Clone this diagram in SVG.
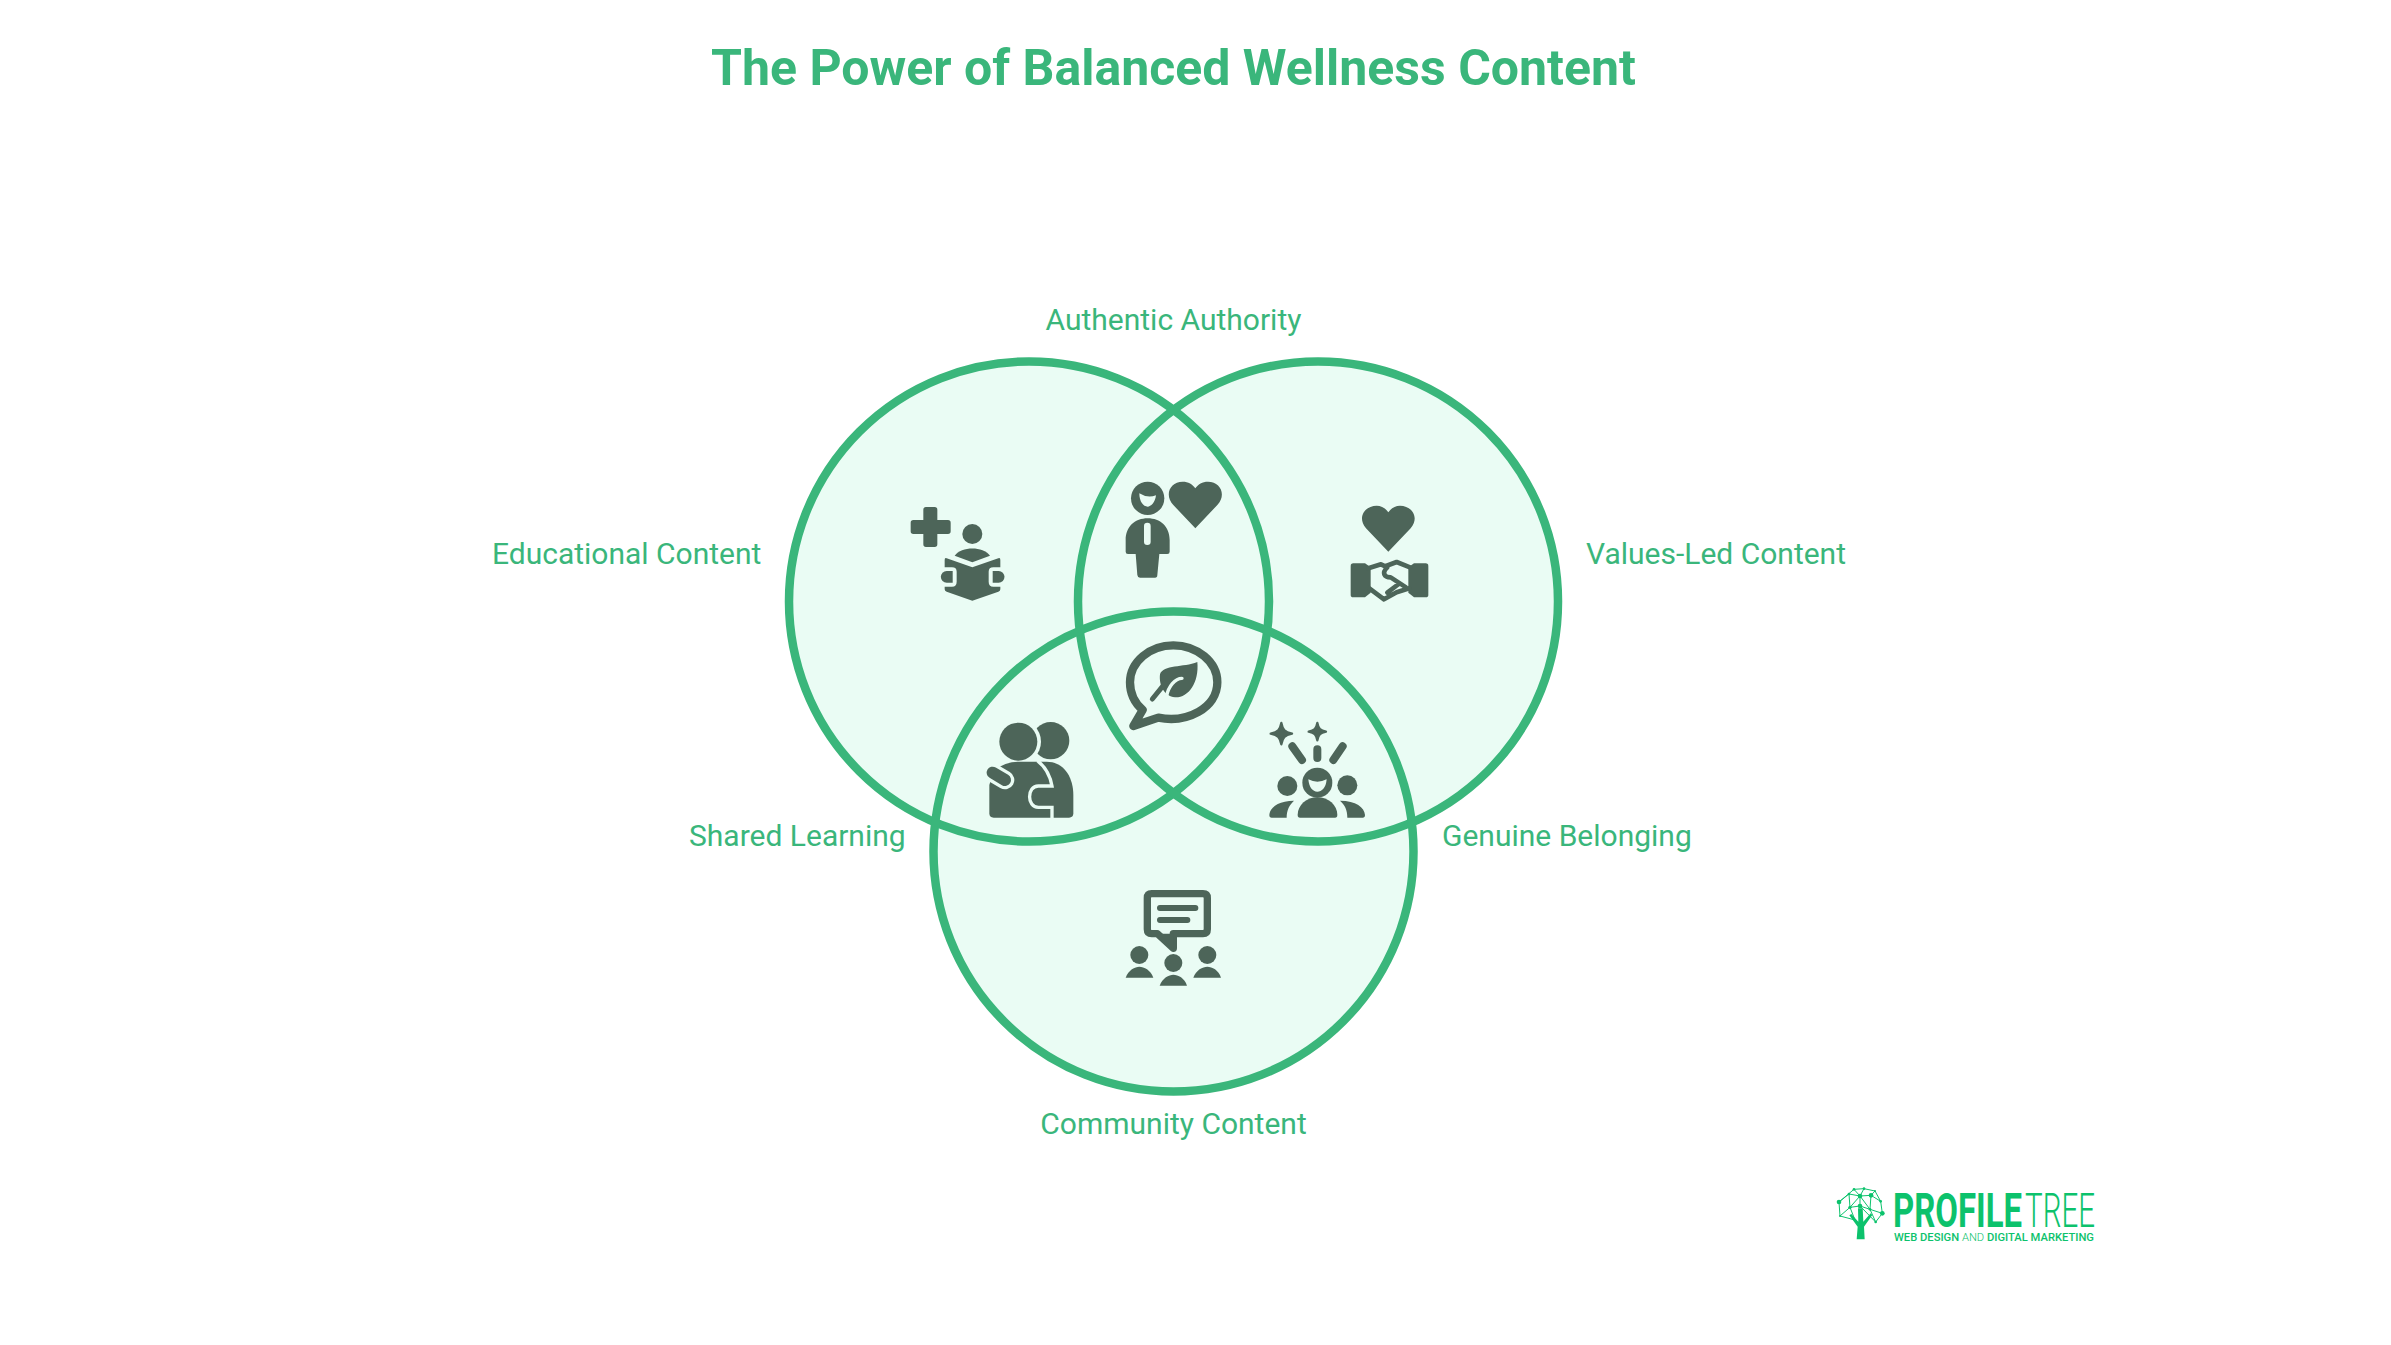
<svg xmlns="http://www.w3.org/2000/svg" width="2391" height="1345" viewBox="0 0 2391 1345">
<style>
text{font-family:Roboto,"Liberation Sans",sans-serif;fill:#3AB67B}
.title{font-size:50px;font-weight:700;text-anchor:middle}
.lbl{font-size:30px;font-weight:400}
.d{fill:#4D6559}
.b{fill:#EAFCF4}
.dl{fill:none;stroke:#4D6559;stroke-linecap:round;stroke-linejoin:round}
.bl{fill:none;stroke:#EAFCF4;stroke-linecap:round;stroke-linejoin:round}
.st{fill:#4D6559;stroke:#4D6559;stroke-width:7;stroke-linejoin:round}
.lg{fill:#0CC26C}
.ll{stroke:#0CC26C;stroke-width:3;fill:none}
</style>
<rect width="2391" height="1345" fill="#FFFFFF"/>
<text class="title" x="1173.5" y="85">The Power of Balanced Wellness Content</text>
<g id="venn-fills" fill="#EAFCF4">
<circle cx="1029" cy="601.500" r="240"/>
<circle cx="1318" cy="601.500" r="240"/>
<circle cx="1173.5" cy="851.500" r="240"/>
</g>
<g id="venn-outlines" fill="none" stroke="#3AB67B" stroke-width="8.500">
<circle cx="1029" cy="601.500" r="240"/>
<circle cx="1318" cy="601.500" r="240"/>
<circle cx="1173.5" cy="851.500" r="240"/>
</g>
<g id="educational-content" transform="translate(880 460) scale(.33333)">
<path class="d" d="M130,149Q130,141 138,141H164Q172,141 172,149V180H204Q212,180 212,188V214Q212,222 204,222H172V253Q172,261 164,261H138Q130,261 130,253V222H100Q92,222 92,214V188Q92,180 100,180H130Z"/>
<circle class="d" cx="277" cy="222" r="30"/>
<path class="d" d="M224,287C245,258 309,258 330,287L277,307Z"/>
<path class="d" d="M194,300Q194,292 200,295L277,322L355,295Q361,292 361,300V322H340Q326,322 326,335V365Q326,380 340,380H361V388Q361,393 355,395L277,422L200,395Q194,393 194,388V380H216Q230,380 230,365V335Q230,322 216,322H194Z"/>
<path class="d" d="M218,333H200A17.500,17.500 0 0 0 200,368H218Z"/>
<path class="d" d="M338,333H356A17.500,17.500 0 0 1 356,368H338Z"/>
</g>
<text class="lbl" x="492" y="564">Educational Content</text>
<g id="authentic-authority" transform="translate(880 460) scale(.33333)">
<circle class="d" cx="803" cy="115" r="50"/>
<path class="b" d="M778,100Q803,116 828,106C826,128 812,140 803,140C790,140 778,125 778,100Z"/>
<path class="d" d="M737,275V240C737,200 765,175 803,175C841,175 869,200 869,240V275Q869,282 862,282H838L832,345Q832,353 825,353H780Q773,353 772,345L767,282H744Q737,282 737,275Z"/>
<rect class="b" x="792" y="188" width="20" height="67" rx="10"/>
<path class="d" d="M946,205L880,135C852,105 870,65 908,65C925,65 938,73 946,85C954,73 967,65 984,65C1022,65 1040,105 1012,135Z"/>
</g>
<text class="lbl" x="1173.5" y="330" text-anchor="middle">Authentic Authority</text>
<g id="values-led-content" transform="translate(1300 480) scale(.33333)">
<path class="d" d="M265,215L198,145C170,112 195,77 230,77C245,77 257,85 265,97C273,85 285,77 300,77C335,77 360,112 332,145Z"/>
<path class="d" d="M160,250H195L212,262V338L195,352H160Q152,352 152,344V258Q152,250 160,250Z"/>
<path class="d" d="M377,250H342L325,262V338L342,352H377Q385,352 385,344V258Q385,250 377,250Z"/>
<path class="dl" stroke-width="14" d="M205,265L243,253L262,262M258,258L290,246L330,262M208,325L252,358L290,337L328,325M262,262C245,278 252,292 272,292L318,322M262,338L296,312"/>
</g>
<text class="lbl" x="1586" y="564">Values-Led Content</text>
<g id="core" transform="translate(1100 620) scale(.33333)">
<path class="dl" stroke-width="25" d="M175,293C260,310 352,265 352,187C352,125 290,76 220,76C150,76 90,125 90,187C90,220 105,250 128,270L100,318Z"/>
<path class="d" d="M292,126C298,190 264,234 225,232C193,230 176,195 180,163C190,133 250,143 292,126Z"/>
<path class="dl" stroke-width="15" d="M157,237L195,190"/>
<path class="bl" stroke-width="10" d="M246,175C225,175 205,200 200,228"/>
</g>
<g id="shared-learning" transform="translate(960 700) scale(.33333)">
<circle class="d" cx="272" cy="122" r="56"/>
<circle class="b" cx="175" cy="125" r="68"/>
<circle class="d" cx="175" cy="125" r="57"/>
<path class="d" d="M88,255V340Q88,353 101,353H327Q340,353 340,340V285C340,230 310,185 260,185H175C150,185 120,195 100,215Z"/>
<path class="bl" stroke-width="56" d="M98,218L135,240"/>
<path class="dl" stroke-width="36" d="M98,218L135,240"/>
<path fill="none" stroke="#EAFCF4" stroke-width="10" d="M232,182C262,205 272,235 276,258H235C200,258 200,322 235,322H276V356"/>
</g>
<text class="lbl" x="689" y="846">Shared Learning</text>
<g id="genuine-belonging" transform="translate(1260 710) scale(.33333)">
<path class="st" d="M64,39C68,60 74,66 96,71C74,76 68,82 64,103C60,82 54,76 32,71C54,66 60,60 64,39Z"/>
<path class="st" d="M172,39C175,56 181,62 198,65C181,68 175,74 172,91C169,74 163,68 146,65C163,62 169,56 172,39Z"/>
<path class="dl" stroke-width="24" d="M97,109L126,150M172,118V144M248,109L220,150"/>
<circle class="d" cx="82" cy="228" r="30"/>
<circle class="d" cx="262" cy="226" r="30"/>
<circle class="d" cx="172" cy="218" r="45"/>
<path class="b" d="M145,208Q172,222 200,208C198,235 185,245 172,245C158,245 147,232 145,208Z"/>
<path class="d" d="M113,315C113,285 140,262 172,262C205,262 232,285 232,315Q232,323 225,323H120Q113,323 113,315Z"/>
<path class="d" d="M28,315C30,292 55,272 102,272C88,285 80,300 80,323H35Q28,323 28,315Z"/>
<path class="d" d="M315,315C313,292 288,272 240,272C255,285 262,300 262,323H308Q315,323 315,315Z"/>
</g>
<text class="lbl" x="1442" y="846">Genuine Belonging</text>
<g id="community-content" transform="translate(1110 880) scale(.33333)">
<path class="dl" stroke-width="22" d="M125,41H279Q292,41 292,54V148Q292,161 279,161H190V205L142,161H125Q112,161 112,148V54Q112,41 125,41Z"/>
<path class="d" d="M150,161H190V210Z"/>
<path class="dl" stroke-width="18" d="M150,84H256M150,120H232"/>
<circle class="d" cx="88" cy="225" r="27"/>
<path class="d" d="M47,293C55,270 75,260 88,260C102,260 122,270 130,293Z"/>
<circle class="d" cx="190" cy="249" r="27"/>
<path class="d" d="M149,317C157,294 177,284 190,284C204,284 224,294 231,317Z"/>
<circle class="d" cx="292" cy="225" r="27"/>
<path class="d" d="M250,293C258,270 278,260 292,260C306,260 326,270 333,293Z"/>
</g>
<text class="lbl" x="1173.500" y="1134" text-anchor="middle">Community Content</text>
<g id="logo">
<g transform="translate(1830 1180) scale(.33333)">
<path class="ll" d="M27,66L72,28L102,26L135,33L152,64L157,100L137,126L120,88L90,78L60,82L30,108L27,66M57,42L90,48L123,46L152,64M72,28L90,48L102,26M123,46L135,33M90,48L90,78M123,46L120,88L157,100M60,82L57,42L27,66M60,82L90,48L120,88M90,78L137,126M60,82L75,120M30,108L75,120"/>
<path class="lg" d="M80,178L83,140L58,106L64,102L85,125L84,85H98L100,125L122,100L127,105L102,140L104,178Z"/>
<g class="lg"><circle cx="27" cy="66" r="7"/><circle cx="72" cy="28" r="4"/><circle cx="102" cy="26" r="4"/><circle cx="135" cy="33" r="3"/><circle cx="123" cy="46" r="7"/><circle cx="90" cy="48" r="7"/><circle cx="57" cy="42" r="4"/><circle cx="152" cy="64" r="4"/><circle cx="60" cy="82" r="5"/><circle cx="120" cy="88" r="4"/><circle cx="90" cy="78" r="7"/><circle cx="157" cy="100" r="7"/><circle cx="30" cy="108" r="3"/><circle cx="137" cy="126" r="4"/></g>
</g>
<text x="1893" y="1226.500" font-size="49" font-weight="700" style="fill:#0CC26C" textLength="129" lengthAdjust="spacingAndGlyphs">PROFILE</text>
<text x="2025" y="1226.500" font-size="49" font-weight="300" style="fill:#0CC26C" textLength="70" lengthAdjust="spacingAndGlyphs">TREE</text>
<text x="1894" y="1240.500" font-size="10.500" font-weight="500" style="fill:#0CC26C" textLength="200" lengthAdjust="spacingAndGlyphs">WEB DESIGN <tspan font-weight="300">AND</tspan> DIGITAL MARKETING</text>
</g>
</svg>
